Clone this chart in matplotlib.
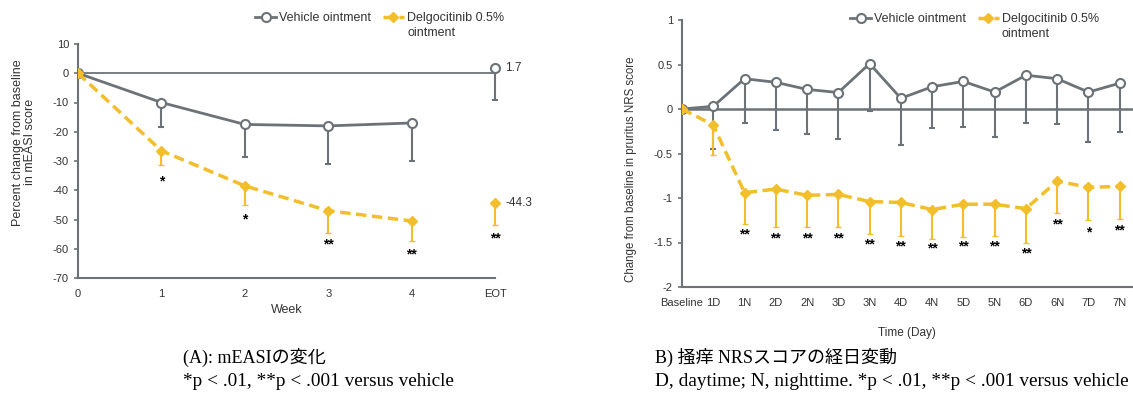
import numpy as np
import matplotlib
matplotlib.use("Agg")
import matplotlib.pyplot as plt
from matplotlib.lines import Line2D

plt.rcParams['font.family'] = ['Liberation Sans', 'DejaVu Sans']
plt.rcParams['axes.unicode_minus'] = False

GRAY = "#6c7378"
YELLOW = "#f3be2c"
TXT = "#333333"
W, H = 1133, 396

# ---- (A) mEASI data ----
week_labels = ["0", "1", "2", "3", "4", "EOT"]
veh_easi = [0, -10, -17.5, -18, -17]
veh_easi_low = [0, 8.5, 11, 13, 13]          # lower error (length)
del_easi = [0, -26.5, -38.5, -47, -50.5]
del_easi_low = [0, 5, 6.5, 7.5, 7]
veh_eot, veh_eot_low = 1.7, 10.7
del_eot, del_eot_low = -44.3, 7.7
easi_stars = ["*", "*", "**", "**", "**"]
easi_star_y = [-37, -50, -58.5, -62, -56.5]

# ---- (B) pruritus NRS data ----
nrs_labels = ["Baseline", "1D", "1N", "2D", "2N", "3D", "3N", "4D", "4N",
              "5D", "5N", "6D", "6N", "7D", "7N"]
veh_nrs = [0, 0.03, 0.34, 0.30, 0.22, 0.185, 0.51, 0.12, 0.25, 0.31, 0.19,
           0.38, 0.34, 0.19, 0.29]
veh_nrs_err_to = [0, -0.45, -0.155, -0.24, -0.28, -0.34, -0.02, -0.41, -0.215,
                  -0.20, -0.315, -0.155, -0.17, -0.37, -0.26]
del_nrs = [0, -0.18, -0.94, -0.90, -0.97, -0.96, -1.04, -1.05, -1.13, -1.07,
           -1.07, -1.12, -0.81, -0.88, -0.87]
del_nrs_err_to = [0, -0.52, -1.29, -1.33, -1.33, -1.33, -1.41, -1.43, -1.46,
                  -1.44, -1.43, -1.50, -1.17, -1.25, -1.24]
nrs_stars = ["", "", "**", "**", "**", "**", "**", "**", "**", "**", "**",
             "**", "**", "*", "**"]
nrs_star_y = [0, 0, -1.41, -1.46, -1.45, -1.46, -1.52, -1.54, -1.57, -1.55,
              -1.54, -1.62, -1.30, -1.39, -1.37]

fig = plt.figure(figsize=(W / 100, H / 100), dpi=100)

veh_style = dict(color=GRAY, lw=2, marker="o", ms=6.5, mfc="white", mec=GRAY,
                 mew=1.5)
del_style = dict(color=YELLOW, lw=2.5, ls=(0, (3, 1.6)), marker="D", ms=5.5,
                 mfc=YELLOW, mec=YELLOW)


def style_axes(ax):
    for s in ["top", "right"]:
        ax.spines[s].set_visible(False)
    for s in ["left", "bottom"]:
        ax.spines[s].set_color(GRAY)
        ax.spines[s].set_linewidth(1.5)
    ax.tick_params(axis="y", colors=GRAY, length=3, width=1.2, labelsize=8,
                   labelcolor=TXT)
    ax.tick_params(axis="x", length=0, labelsize=8, labelcolor=TXT, pad=8)


def add_legend(x_px, y_px):
    handles = [Line2D([], [], **veh_style), Line2D([], [], **del_style)]
    leg = fig.legend(handles, ["Vehicle ointment", "Delgocitinib 0.5%"],
                     loc="center left", bbox_to_anchor=(x_px / W, 1 - y_px / H),
                     ncol=2, frameon=False, fontsize=9, handlelength=1.7,
                     handletextpad=0.25, columnspacing=0.9, borderpad=0,
                     borderaxespad=0, labelcolor=TXT)
    fig.canvas.draw()
    bb = leg.get_texts()[1].get_window_extent()
    # second line of the wrapped label
    fig.text(bb.x0 / W, (bb.y0 - 15) / H, "ointment", fontsize=9, color=TXT,
             va="bottom", ha="left")


# ---------------- left chart ----------------
ax1 = fig.add_axes([78 / W, 118 / H, 417 / W, 234 / H])
style_axes(ax1)
x = np.arange(len(week_labels))
xw = x[:5]
ax1.axhline(0, color=GRAY, lw=1.3, zorder=1)
ax1.errorbar(xw, veh_easi, yerr=[veh_easi_low, np.zeros(5)], capsize=2,
             elinewidth=1.5, zorder=3, **veh_style)
ax1.errorbar(xw, del_easi, yerr=[del_easi_low, np.zeros(5)], capsize=2,
             elinewidth=1.5, zorder=4, **del_style)
eb = ax1.errorbar([x[5]], [veh_eot], yerr=[[veh_eot_low], [0]], capsize=2,
                  elinewidth=1.5, zorder=3, **veh_style)
eb2 = ax1.errorbar([x[5]], [del_eot], yerr=[[del_eot_low], [0]], capsize=2,
                   elinewidth=1.5, zorder=4, **del_style)
for container in (eb, eb2):
    for art in container.get_children():
        art.set_clip_on(False)
ax1.text(x[5] + 0.12, veh_eot, f"{veh_eot}", fontsize=8.5, color=TXT,
         va="center", clip_on=False)
ax1.text(x[5] + 0.12, del_eot, f"{del_eot}", fontsize=8.5, color=TXT,
         va="center", clip_on=False)
for xi, s, sy in zip(list(xw[1:]) + [x[5]], easi_stars, easi_star_y):
    ax1.text(xi, sy, s, ha="center", va="center", fontsize=10,
             fontweight="bold", color="black")

ax1.set_xlim(0, 5)
ax1.set_ylim(-70, 10)
ax1.set_yticks(np.arange(-70, 11, 10))
ax1.set_xticks(x)
ax1.set_xticklabels(week_labels)
ax1.set_xlabel("Week", fontsize=9, color=TXT)
ax1.xaxis.set_label_coords(0.5, -0.11)
ax1.set_ylabel("Percent change from baseline\nin mEASI score", fontsize=9,
               color=TXT, linespacing=1.05)
ax1.yaxis.set_label_coords(-0.10, 0.58)

# ---------------- right chart ----------------
ax2 = fig.add_axes([682 / W, 109 / H, 469 / W, 267 / H])
style_axes(ax2)
xn = np.arange(len(nrs_labels))
veh_err = np.array(veh_nrs) - np.array(veh_nrs_err_to)
del_err = np.array(del_nrs) - np.array(del_nrs_err_to)
ax2.axhline(0, color=GRAY, lw=1.8, zorder=1)
ax2.errorbar(xn, veh_nrs, yerr=[veh_err, np.zeros(len(xn))], capsize=2,
             elinewidth=1.5, zorder=3, **veh_style)
ax2.errorbar(xn, del_nrs, yerr=[del_err, np.zeros(len(xn))], capsize=2,
             elinewidth=1.5, zorder=4, **del_style)
for xi, s, sy in zip(xn, nrs_stars, nrs_star_y):
    if s:
        ax2.text(xi, sy, s, ha="center", va="center", fontsize=10,
                 fontweight="bold", color="black", clip_on=False)

ax2.set_xlim(0, 15)
ax2.set_ylim(-2, 1)
ax2.set_yticks([-2, -1.5, -1, -0.5, 0, 0.5, 1])
ax2.set_yticklabels(["-2", "-1.5", "-1", "-0.5", "0", "0.5", "1"])
ax2.set_xticks(xn)
ax2.set_xticklabels(nrs_labels)
ax2.set_xlabel("Time (Day)", fontsize=8.5, color=TXT)
ax2.xaxis.set_label_coords(0.48, -0.15)
ax2.set_ylabel("Change from baseline in pruritus NRS score", fontsize=8.3,
               color=TXT)
ax2.yaxis.set_label_coords(-0.096, 0.44)

add_legend(255, 18)
add_legend(850, 19)

# ---------------- captions ----------------
cap_font = ['Liberation Serif', 'Noto Sans CJK JP']
fig.text(183 / W, 1 - 357 / H, "(A): mEASIの変化", family=cap_font,
         fontsize=13, va="center", color="black")
fig.text(183 / W, 1 - 382 / H, "*p < .01, **p < .001 versus vehicle",
         family=cap_font, fontsize=13.9, va="center", color="black")
fig.text(655 / W, 1 - 357 / H, "B) 掻痒 NRSスコアの経日変動",
         family=cap_font, fontsize=13, va="center", color="black")
fig.text(655 / W, 1 - 382 / H,
         "D, daytime; N, nighttime. *p < .01, **p < .001 versus vehicle",
         family=cap_font, fontsize=13.9, va="center", color="black")

fig.savefig("out.png", dpi=100)
